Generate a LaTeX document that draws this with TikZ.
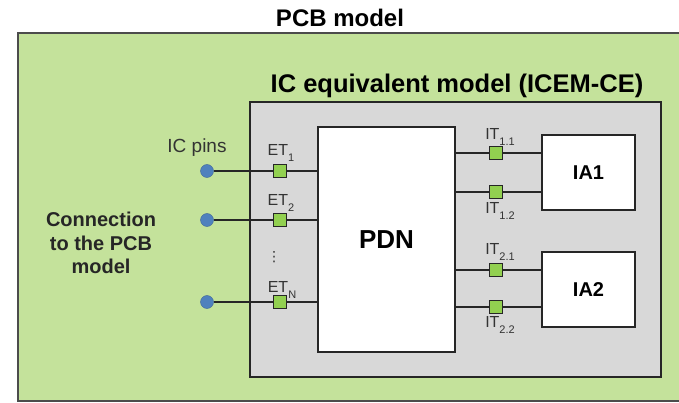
\documentclass[tikz,border=0pt]{standalone}
\usepackage{fontspec}
\setmainfont{Liberation Sans}
\newfontfamily\symfont{DejaVu Sans}
\usetikzlibrary{positioning}
\definecolor{pcbgreen}{RGB}{196,226,155}
\definecolor{icgray}{RGB}{216,216,216}
\definecolor{termgreen}{RGB}{146,208,80}
\definecolor{pinblue}{RGB}{79,129,189}
\newcommand{\fsz}[1]{\fontsize{#1}{#1}\selectfont}
\newcommand{\lsub}[1]{\raisebox{-0.4em}{\fsz{11}#1}}

\begin{document}
\begin{tikzpicture}[x=1pt, y=-1pt,
  pcbbox/.style={rectangle, draw=black!70, line width=1.5pt, fill=pcbgreen, inner sep=0pt},
  icbox/.style={rectangle, draw=black!85, line width=1.6pt, fill=icgray, inner sep=0pt},
  blk/.style={rectangle, draw=black!85, line width=1.4pt, fill=white, inner sep=0pt},
  term/.style={rectangle, draw=black!85, line width=1.2pt, fill=termgreen, minimum size=13pt, inner sep=0pt},
  pin/.style={circle, fill=pinblue, draw=pinblue!80!black, line width=0.4pt, minimum size=13pt, inner sep=0pt},
  wire/.style={line width=1.3pt, draw=black!85},
  tlbl/.style={font=\fsz{16}, text=black!80, inner sep=0pt},
  ttl/.style={font=\bfseries, inner sep=0pt, align=center}
]
\useasboundingbox (0,0) rectangle (679,403);

% outer PCB model
\node[pcbbox, minimum width=672pt, minimum height=368pt] (pcb) at (354,217) {};
\node[ttl, font=\fsz{24}\bfseries] (pcbttl) at (340,18) {PCB model};

% IC equivalent model
\node[icbox, minimum width=411pt, minimum height=275pt] (icem) at (455.5,239.5) {};
\node[ttl, font=\fsz{25.5}\bfseries, anchor=base] (icemttl) at (457,93) {IC equivalent model (ICEM-CE)};

\node[blk, minimum width=137pt, minimum height=225pt, font=\fsz{26}\bfseries] (pdn) at (386.5,239.5) {PDN};
\node[blk, minimum width=93pt, minimum height=75pt, font=\fsz{20}\bfseries] (ia1) at (588.5,172.5) {IA1};
\node[blk, minimum width=93pt, minimum height=75pt, font=\fsz{20}\bfseries] (ia2) at (588.5,289.5) {IA2};

% external side
\node[ttl, font=\fontsize{20}{23.5}\selectfont\bfseries, text=black!85] (conn) at (101,243)
  {Connection\\to the PCB\\model};
\node[tlbl, font=\fsz{19}] (icpins) at (197,148) {IC pins};

\node[pin] (pin1) at (207,171) {};
\node[pin] (pin2) at (207,220) {};
\node[pin] (pinn) at (207,302) {};

\node[term] (et1) at (280,171) {};
\node[term] (et2) at (280,220) {};
\node[term] (etn) at (280,302) {};

\node[tlbl] (et1lbl) at (281,153) {ET\lsub{1}};
\node[tlbl] (et2lbl) at (281,203) {ET\lsub{2}};
\node[tlbl] (etnlbl) at (282,290) {ET\lsub{N}};
\node[tlbl, font=\symfont\fsz{14}] (vdots) at (274,257) {⋮};

\draw[wire] (pin1) -- (et1) -- (pdn.west |- et1);
\draw[wire] (pin2) -- (et2) -- (pdn.west |- et2);
\draw[wire] (pinn) -- (etn) -- (pdn.west |- etn);

% internal terminals
\node[term] (it11) at (496,153) {};
\node[term] (it12) at (496,192) {};
\node[term] (it21) at (496,270) {};
\node[term] (it22) at (496,307) {};

\node[tlbl] (it11lbl) at (500,137) {IT\lsub{1.1}};
\node[tlbl] (it12lbl) at (500,211) {IT\lsub{1.2}};
\node[tlbl] (it21lbl) at (500,252) {IT\lsub{2.1}};
\node[tlbl] (it22lbl) at (500,325) {IT\lsub{2.2}};

\draw[wire] (pdn.east |- it11) -- (it11) -- (ia1.west |- it11);
\draw[wire] (pdn.east |- it12) -- (it12) -- (ia1.west |- it12);
\draw[wire] (pdn.east |- it21) -- (it21) -- (ia2.west |- it21);
\draw[wire] (pdn.east |- it22) -- (it22) -- (ia2.west |- it22);
\end{tikzpicture}
\end{document}
